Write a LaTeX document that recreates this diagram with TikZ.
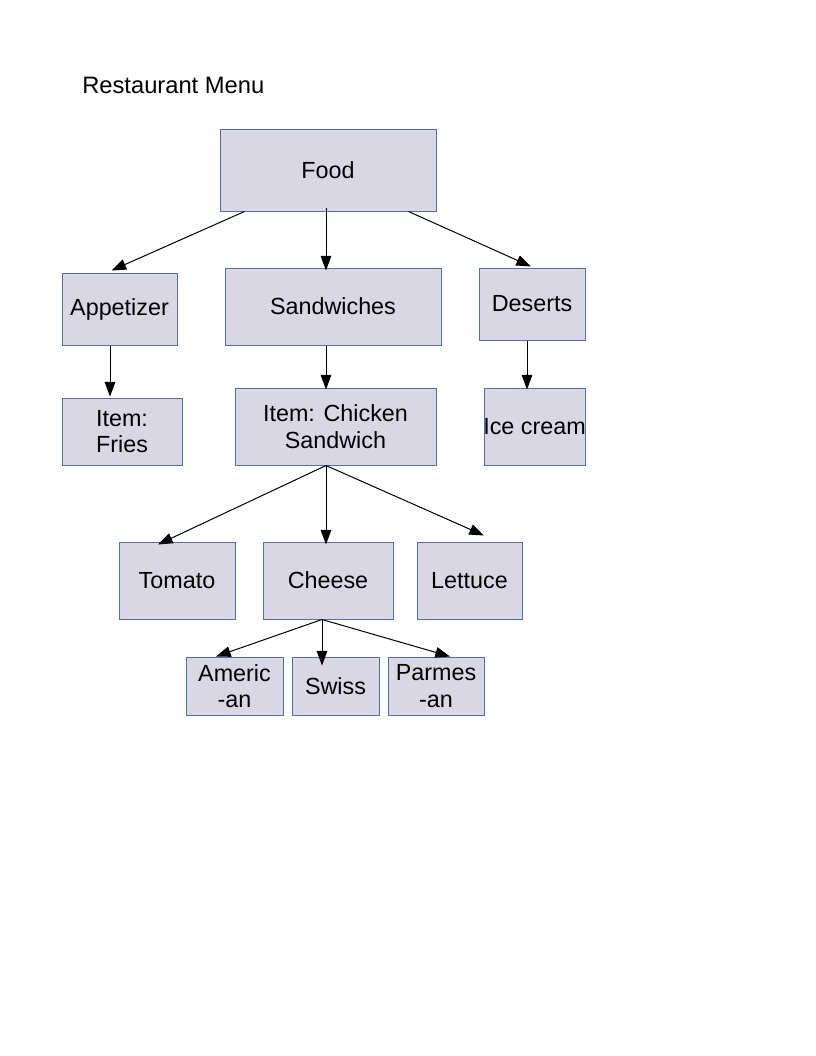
\documentclass[tikz,border=0pt]{standalone}
\usepackage{fontspec}
\setmainfont{Liberation Sans}
\usetikzlibrary{arrows.meta,calc}
\definecolor{boxfill}{RGB}{217,215,228}
\definecolor{boxline}{RGB}{82,112,168}
\tikzstyle{item} = [rectangle, draw=boxline, fill=boxfill, line width=.75pt, inner sep=0pt, align=center, font=\fontsize{17.5}{20}\selectfont]
\tikzstyle{link} = [draw=black, line width=.75pt, -{Triangle[length=11pt,width=8pt]}]

\begin{document}
\begin{tikzpicture}[x=.75pt, y=-.75pt]
					\useasboundingbox (0,0) rectangle (816,1056);
					\node (title) [anchor=west, inner sep=0pt, font=\fontsize{17.8}{20}\selectfont] at (82,85) {Restaurant Menu};
					% top level
					\node (food) [item, minimum width=162pt, minimum height=61.5pt] at (328,170) {Food};
					\node (app) [item, minimum width=86.25pt, minimum height=54pt] at (119.5,309) {Appetizer};
					\node (sand) [item, minimum width=162pt, minimum height=57.75pt] at (333,306.5) {Sandwiches};
					\node (des) [item, minimum width=79.5pt, minimum height=54pt] at (532,304) {Deserts};
					% items
					\node (fries) [item, minimum width=90pt, minimum height=50.25pt] at (122,431.5) {Item:\\Fries};
					\node (chick) [item, minimum width=150.75pt, minimum height=57.75pt] at (335.5,426.5) {Item: Chicken\\Sandwich};
					\node (ice) [item, minimum width=75.75pt, minimum height=57.75pt] at (534.5,426.5) {\makebox[0pt]{Ice cream}};
					% toppings
					\node (tom) [item, minimum width=87pt, minimum height=57.75pt] at (177,580.5) {Tomato};
					\node (chs) [item, minimum width=97.5pt, minimum height=57.75pt] at (328,580.5) {Cheese};
					\node (let) [item, minimum width=78.75pt, minimum height=57.75pt] at (469.5,580.5) {Lettuce};
					\node (amer) [item, minimum width=72.75pt, minimum height=43.5pt] at (234.5,686) {Americ\\-an};
					\node (swiss) [item, minimum width=65.25pt, minimum height=43.5pt] at (335.5,686) {Swiss};
					\node (parm) [item, minimum width=72pt, minimum height=43.5pt] at (436,686) {Parmes\\-an};
					% arrows
					\draw[link] ($(food.south west)+(25,0)$) -- ($(app.north west)+(50,-2)$);
					\draw[link] ($(food.south)+(-2,-4)$) -- ($(sand.north)+(-7,3)$);
					\draw[link] ($(food.south east)+(-28,0)$) -- ($(des.north)+(-1,-1)$);
					\draw[link] ($(app.south)+(-9.5,0)$) -- ($(fries.north)+(-12,-1)$);
					\draw[link] ($(sand.south)+(-7,0)$) -- ($(chick.north)+(-9.5,2)$);
					\draw[link] ($(des.south)+(-5,0)$) -- ($(ice.north)+(-7.5,2)$);
					\draw[link] ($(chick.south)+(-9.5,0)$) -- ($(tom.north)+(-19,3)$);
					\draw[link] ($(chick.south)+(-9.5,0)$) -- ($(chs.north)+(-2,3)$);
					\draw[link] ($(chick.south)+(-9.5,0)$) -- ($(let.north)+(14.5,-6)$);
					\draw[link] ($(chs.south)+(-6,0)$) -- ($(amer.north)+(-18.5,0)$);
					\draw[link] ($(chs.south)+(-6,0)$) -- ($(swiss.north)+(-13.5,9)$);
					\draw[link] ($(chs.south)+(-6,0)$) -- ($(parm.north)+(14,0)$);
				\end{tikzpicture}
\end{document}
